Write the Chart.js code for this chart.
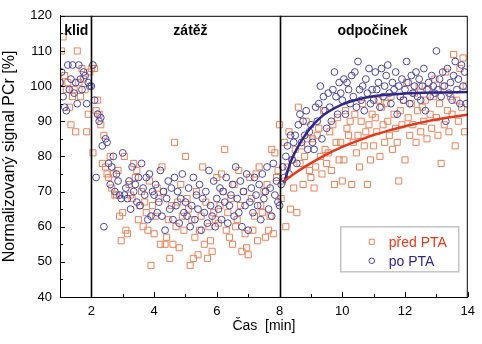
<!DOCTYPE html>
<html>
<head>
<meta charset="utf-8">
<script src="https://cdn.jsdelivr.net/npm/chart.js@4/dist/chart.umd.min.js"></script>
<style>
    body { margin: 0; background: #fff; }
    canvas { display: block; }
</style>
</head>
<body>
<canvas id="grafPCr" width="482" height="344"></canvas>
<script>
// cas prvniho vzorku a krok mereni (3 s) v minutach
const casStart = 1.0;
const casKrok = 0.05;

const serieNazvy = ['před PTA', 'po PTA'];

// pred PTA - ctverecky, po minutach (20 vzorku / min)
const predPTA = [
    101, 110, 114, 103, 99, 101, 94, 89, 97, 99, 87, 110, 101, 97, 105, 102, 99, 87, 92, 104,
    105, 81, 105, 93, 96, 92, 89, 78, 86, 77, 75, 74, 80, 71, 75, 69, 69, 76, 63, 56,
    64, 80, 59, 58, 72, 69, 68, 78, 74, 76, 62, 66, 70, 60, 67, 64, 59, 73, 49, 66,
    58, 63, 71, 68, 55, 77, 70, 55, 57, 62, 51, 66, 55, 84, 60, 67, 54, 72, 63, 59,
    80, 68, 65, 49, 62, 51, 57, 70, 52, 59, 63, 77, 55, 67, 51, 60, 56, 53, 64, 62,
    74, 61, 66, 75, 70, 82, 59, 64, 57, 68, 55, 72, 60, 62, 76, 66, 53, 70, 58, 54,
    52, 74, 68, 59, 63, 75, 56, 77, 66, 64, 70, 57, 72, 59, 63, 82, 58, 81, 74, 76,
    89, 68, 73, 84, 60, 77, 87, 65, 79, 71, 82, 64, 94, 78, 83, 72, 80, 90, 85, 76,
    74, 85, 71, 77, 86, 88, 80, 75, 93, 82, 78, 81, 87, 76, 89, 72, 84, 91, 79, 84,
    73, 79, 93, 88, 86, 90, 72, 84, 92, 81, 86, 77, 90, 95, 83, 87, 72, 89, 79, 92,
    83, 91, 87, 96, 80, 94, 89, 84, 95, 90, 86, 97, 82, 92, 88, 84, 73, 93, 89, 96,
    79, 101, 91, 86, 95, 89, 98, 84, 93, 100, 87, 94, 90, 96, 85, 99, 92, 88, 97, 102,
    91, 86, 95, 78, 100, 89, 104, 93, 87, 97, 92, 109, 83, 96, 90, 105, 94, 108, 87, 100
];

// po PTA - kolecka
const poPTA = [
    101, 104, 97, 94, 93, 106, 99, 102, 106, 98, 101, 95, 106, 102, 99, 104, 103, 95, 101, 100,
    100, 106, 96, 74, 92, 90, 91, 83, 60, 85, 84, 78, 72, 77, 80, 70, 75, 73, 69, 68,
    81, 69, 71, 68, 73, 65, 77, 70, 72, 67, 74, 66, 78, 71, 69, 74, 62, 75, 63, 70,
    69, 72, 64, 67, 76, 63, 70, 59, 68, 73, 65, 71, 62, 74, 66, 70, 61, 68, 75, 64,
    67, 63, 71, 60, 66, 74, 62, 69, 65, 72, 59, 68, 64, 70, 61, 76, 66, 63, 73, 60,
    68, 65, 71, 62, 70, 67, 74, 61, 66, 69, 72, 63, 77, 68, 64, 73, 60, 70, 66, 75,
    59, 67, 71, 64, 74, 69, 66, 72, 62, 75, 68, 70, 77, 65, 71, 63, 78, 69, 73, 67,
    66, 72, 77, 74, 80, 83, 75, 86, 79, 84, 86, 78, 89, 92, 84, 90, 86, 93, 82, 87,
    89, 84, 82, 94, 90, 95, 100, 85, 97, 93, 88, 98, 94, 90, 99, 104, 97, 92, 101, 98,
    96, 102, 92, 101, 99, 95, 103, 97, 104, 94, 107, 99, 96, 100, 93, 102, 98, 105, 95, 99,
    96, 104, 99, 101, 94, 105, 97, 100, 103, 106, 98, 95, 101, 99, 104, 92, 100, 97, 102, 96,
    99, 107, 101, 95, 103, 98, 100, 104, 97, 102, 96, 100, 105, 93, 99, 101, 97, 103, 100, 98,
    110, 99, 102, 97, 104, 100, 90, 105, 98, 101, 96, 103, 107, 99, 102, 95, 106, 100, 104, 95
];

// proklad v zotaveni
const fitPredCas = [8.15, 8.5, 9, 9.5, 10, 10.5, 11, 11.5, 12, 12.5, 13, 13.5, 14];
const fitPredHod = [73, 75.3, 78.1, 80.6, 82.7, 84.5, 86.1, 87.4, 88.6, 89.6, 90.5, 91.2, 91.9];
const fitPoCas = [8.15, 8.25, 8.35, 8.5, 8.75, 9, 9.25, 9.5, 10, 10.5, 11, 12, 13, 14];
const fitPoHod = [72.5, 75.6, 78.4, 81.3, 85.2, 88.3, 90.6, 92.4, 94.8, 96.2, 97.1, 97.9, 98.2, 98.3];

const xTicks = [2, 4, 6, 8, 10, 12, 14];
const yTicks = [40, 50, 60, 70, 80, 90, 100, 110, 120];
const hraniceFazi = [2, 8];
const fazeNazvy = ['klid', 'zátěž', 'odpočinek'];
const fazeStred = [1.52, 5.16, 10.96];

const barvaPred = '#e8825a';
const barvaPo = '#4a48a2';
const barvaFitPred = '#e33a1e';
const barvaFitPo = '#2f2888';
const pismo = '"Liberation Sans", Arial, sans-serif';

function body(hodnoty) {
    return hodnoty.map((v, i) => ({ x: casStart + i * casKrok, y: v }));
}
function dvojice(casy, hodnoty) {
    return casy.map((t, i) => ({ x: t, y: hodnoty[i] }));
}

const dekorace = {
    id: 'dekorace',
    afterDatasetsDraw(chart) {
        const ctx = chart.ctx;
        const a = chart.chartArea;
        const sx = chart.scales.x;
        const sy = chart.scales.y;
        ctx.save();
        // ramecek
        ctx.strokeStyle = '#000';
        ctx.lineWidth = 1;
        ctx.strokeRect(a.left + 0.5, a.top + 0.5, a.right - a.left - 1, a.bottom - a.top);
        // hranice fazi
        ctx.lineWidth = 1.6;
        hraniceFazi.forEach(t => {
            let px = Math.round(sx.getPixelForValue(t)) + 0.5;
            ctx.beginPath();
            ctx.moveTo(px, a.top);
            ctx.lineTo(px, a.bottom);
            ctx.stroke();
        });
        // znacky dovnitr
        ctx.lineWidth = 1;
        for (let v = 40; v <= 120; v += 5) {
            let py = Math.round(sy.getPixelForValue(v)) + 0.5;
            let d = v % 10 === 0 ? 5 : 3;
            ctx.beginPath();
            ctx.moveTo(a.left, py);
            ctx.lineTo(a.left + d, py);
            ctx.stroke();
        }
        for (let t = 2; t <= 14; t += 1) {
            let px = Math.round(sx.getPixelForValue(t)) + 0.5;
            let d = t % 2 === 0 ? 5 : 3;
            ctx.beginPath();
            ctx.moveTo(px, a.bottom);
            ctx.lineTo(px, a.bottom - d);
            ctx.stroke();
        }
        // nazvy fazi
        ctx.fillStyle = '#000';
        ctx.font = 'bold 14px ' + pismo;
        ctx.textAlign = 'center';
        ctx.textBaseline = 'middle';
        fazeNazvy.forEach((n, i) => {
            ctx.fillText(n, sx.getPixelForValue(fazeStred[i]), sy.getPixelForValue(115.6));
        });
        // legenda
        let lx = a.right - 127, ly = a.top + 211;
        ctx.fillStyle = '#fff';
        ctx.fillRect(lx, ly, 118, 45);
        ctx.strokeStyle = '#c4c4c4';
        ctx.lineWidth = 1.5;
        ctx.strokeRect(lx, ly, 118, 45);
        ctx.font = '14px ' + pismo;
        ctx.textAlign = 'left';
        ctx.lineWidth = 1;
        let ds = chart.data.datasets;
        [0, 1].forEach(i => {
            let yy = ly + 15 + i * 19;
            let mx = lx + 31;
            ctx.strokeStyle = ds[i].borderColor;
            ctx.beginPath();
            if (ds[i].pointStyle === 'rect') {
                ctx.rect(mx - 2.5, yy - 2.5, 5, 5);
            } else {
                ctx.arc(mx, yy, 2.8, 0, Math.PI * 2);
            }
            ctx.stroke();
            ctx.fillStyle = i === 0 ? barvaFitPred : barvaFitPo;
            ctx.fillText(ds[i].label, lx + 48, yy + 1);
        });
        ctx.restore();
    }
};

function loadPage() {
    let ctxGraf = document.getElementById('grafPCr');
    new Chart(ctxGraf.getContext('2d'), {
        type: 'scatter',
        data: {
            datasets: [
                {
                    label: serieNazvy[0],
                    data: body(predPTA),
                    pointStyle: 'rect',
                    pointRadius: 4.3,
                    borderColor: barvaPred,
                    backgroundColor: 'transparent',
                    pointBorderWidth: 1,
                    order: 2
                },
                {
                    label: serieNazvy[1],
                    data: body(poPTA),
                    pointStyle: 'circle',
                    pointRadius: 3.4,
                    borderColor: barvaPo,
                    backgroundColor: 'transparent',
                    pointBorderWidth: 1,
                    order: 1
                },
                {
                    label: 'fit před',
                    data: dvojice(fitPredCas, fitPredHod),
                    showLine: true,
                    pointRadius: 0,
                    borderColor: barvaFitPred,
                    borderWidth: 2.5,
                    cubicInterpolationMode: 'monotone',
                    order: 0
                },
                {
                    label: 'fit po',
                    data: dvojice(fitPoCas, fitPoHod),
                    showLine: true,
                    pointRadius: 0,
                    borderColor: barvaFitPo,
                    borderWidth: 2.5,
                    cubicInterpolationMode: 'monotone',
                    order: 0
                }
            ]
        },
        options: {
            responsive: false,
            animation: false,
            layout: { autoPadding: false, padding: { top: 9, right: 10, left: 0, bottom: 0 } },
            plugins: {
                legend: { display: false },
                tooltip: { enabled: false }
            },
            scales: {
                x: {
                    type: 'linear',
                    min: 1,
                    max: 14,
                    afterBuildTicks: s => { s.ticks = xTicks.map(v => ({ value: v })); },
                    afterFit: s => { s.height = 47; },
                    grid: { display: false, drawTicks: false },
                    border: { display: true, color: '#000' },
                    ticks: { color: '#000', padding: 7, font: { family: pismo, size: 13 } },
                    title: {
                        display: true,
                        text: 'Čas  [min]',
                        color: '#000',
                        font: { family: pismo, size: 14 },
                        padding: { top: 0, bottom: 9 }
                    }
                },
                y: {
                    min: 40,
                    max: 120,
                    afterBuildTicks: s => { s.ticks = yTicks.map(v => ({ value: v })); },
                    afterFit: s => { s.width = 60; },
                    grid: { display: false, drawTicks: false },
                    border: { display: true, color: '#000' },
                    ticks: { color: '#000', padding: 8, font: { family: pismo, size: 13 } },
                    title: {
                        display: true,
                        text: 'Normalizovaný signal PCr [%]',
                        color: '#000',
                        font: { family: pismo, size: 16 },
                        padding: { top: 0, bottom: 4 }
                    }
                }
            }
        },
        plugins: [dekorace]
    });
}
window.addEventListener('DOMContentLoaded', loadPage);
</script>
</body>
</html>
